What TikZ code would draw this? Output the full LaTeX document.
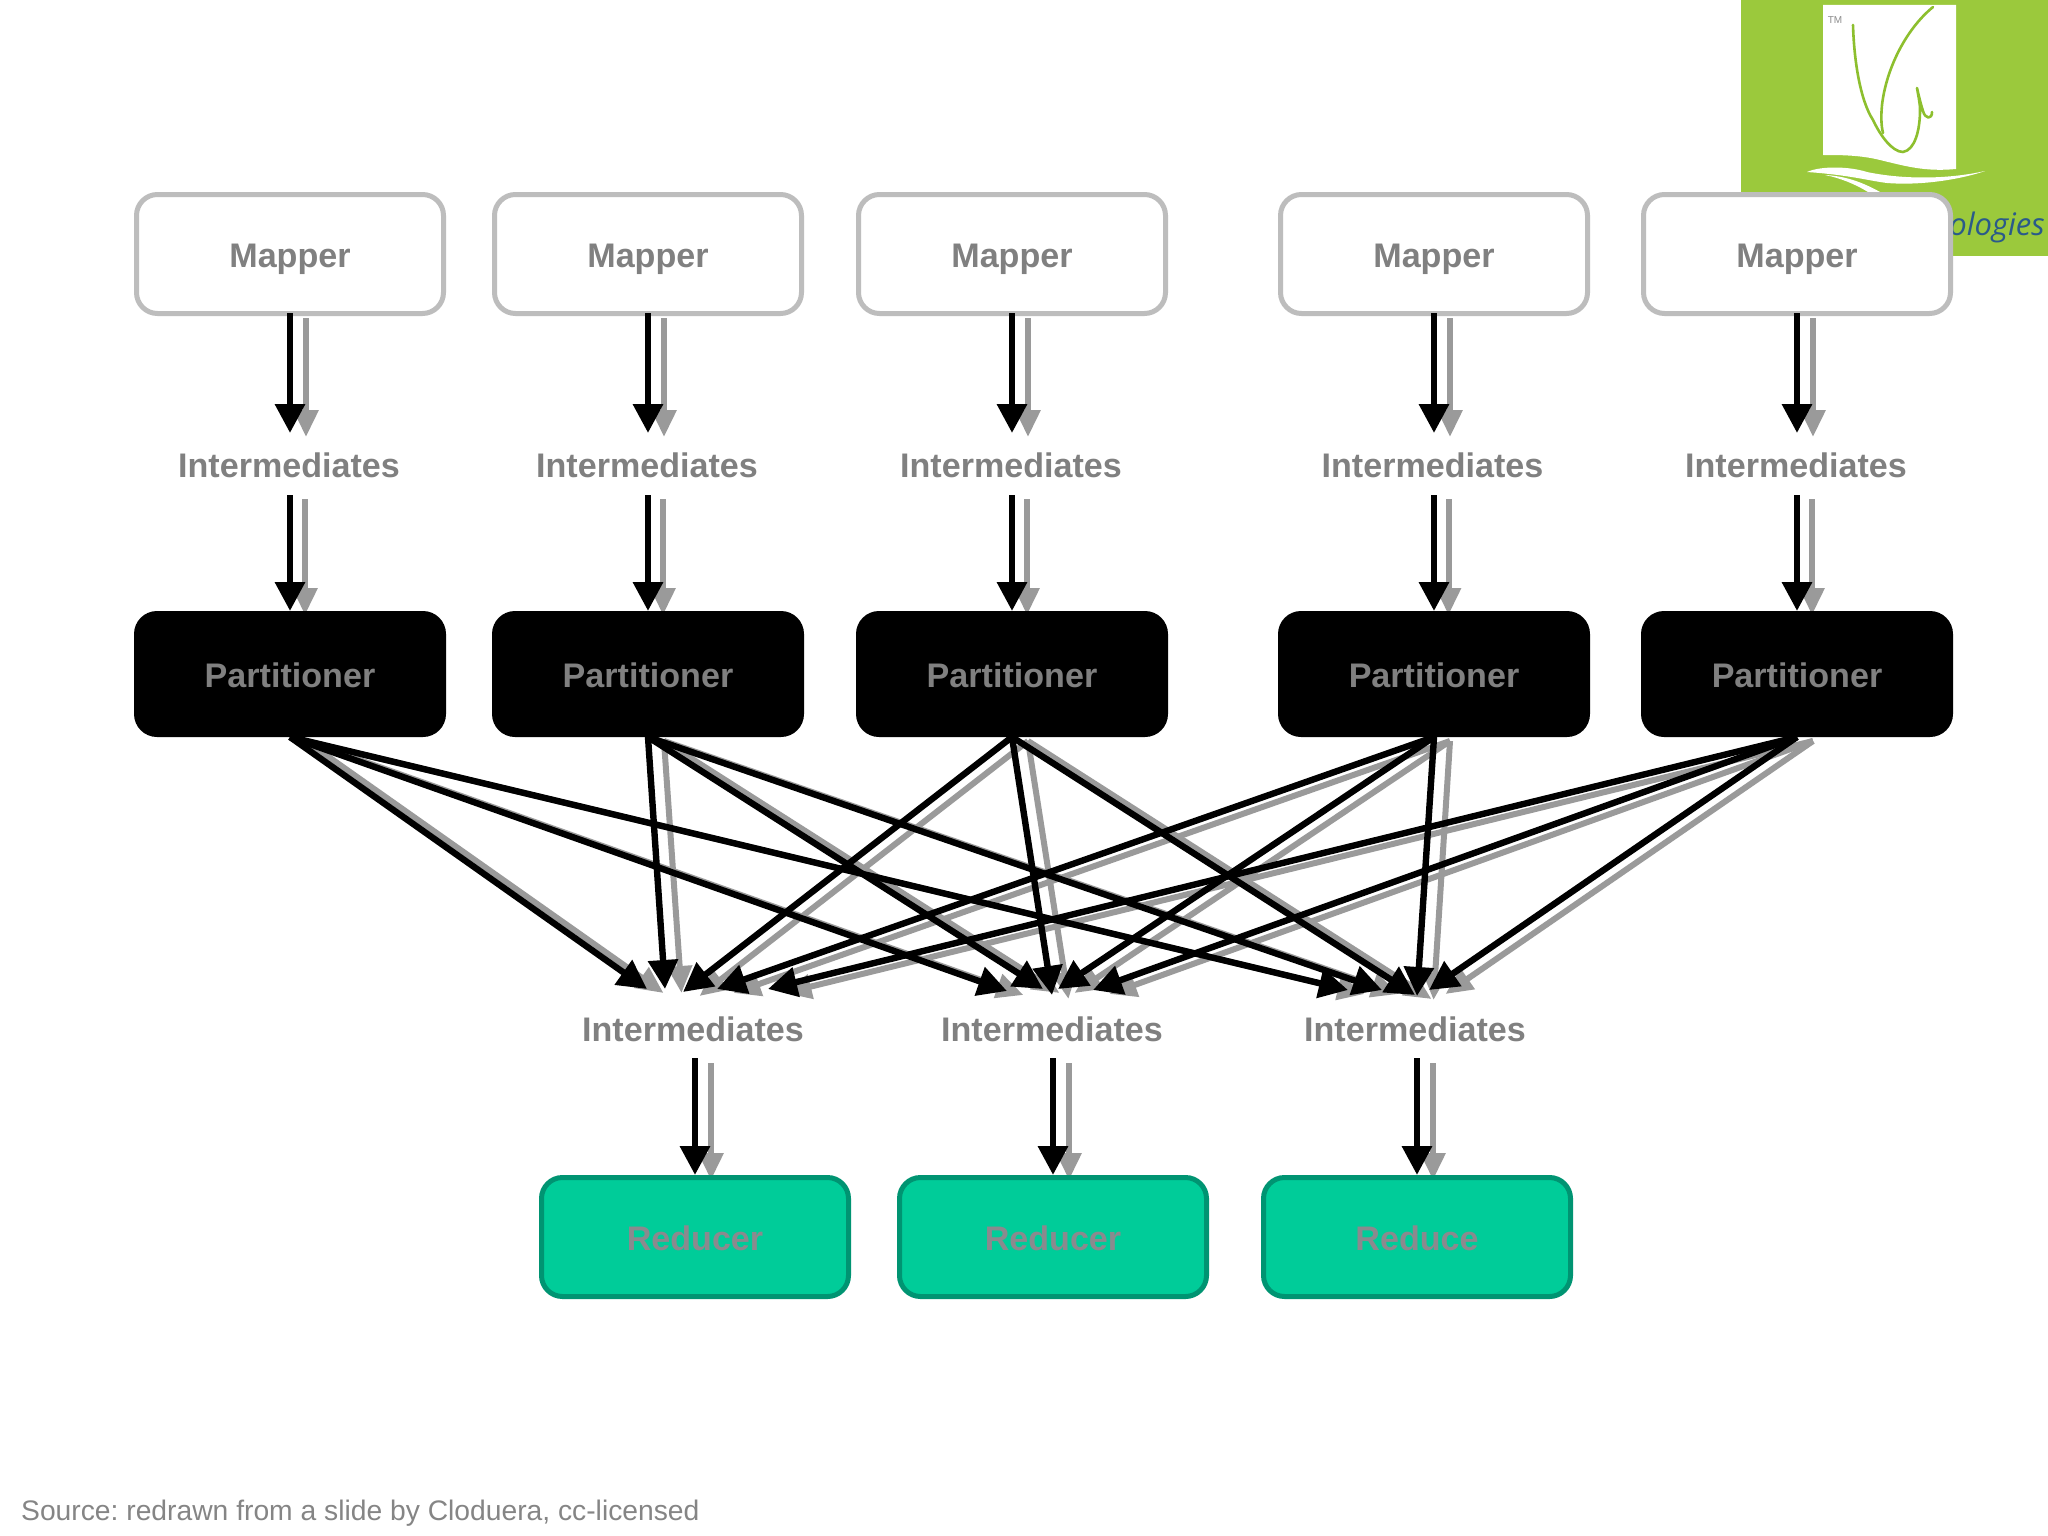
\documentclass[tikz,border=0pt]{standalone}
\usepackage{fontspec}
\setmainfont{Liberation Sans}
\newfontfamily\logofont{Open Sans}
\usetikzlibrary{arrows.meta}
\pgfdeclarelayer{bg}
\pgfdeclarelayer{fg}
\pgfsetlayers{bg,main,fg}
\frenchspacing
\definecolor{txtgray}{HTML}{808080}
\definecolor{boxgray}{HTML}{BDBDBD}
\definecolor{arrgray}{HTML}{9A9A9A}
\definecolor{logogreen}{HTML}{9BC93C}
\definecolor{logoline}{HTML}{8DBF2E}
\definecolor{logotext}{HTML}{2A5A8A}
\definecolor{redfill}{HTML}{00CC99}
\definecolor{redline}{HTML}{009472}
\definecolor{redtext}{HTML}{8A8A8E}
\tikzset{
  lbl/.style={font=\fontsize{34.1}{40}\selectfont\bfseries,text=txtgray},
  box/.style={lbl,rectangle,rounded corners=21pt,inner sep=0pt,text height=34pt,text depth=8pt},
  mapper/.style={box,draw=boxgray,fill=white,line width=5pt,minimum width=307pt,minimum height=119pt},
  part/.style={box,rounded corners=23pt,fill=black,minimum width=312pt,minimum height=126pt,outer sep=0pt},
  reducer/.style={box,draw=redline,fill=redfill,line width=5pt,minimum width=307pt,minimum height=119pt,text=redtext},
  inter/.style={lbl,inner sep=0pt,outer sep=0pt,minimum height=66pt,text height=30pt,text depth=8pt},
  blk/.style={draw=black,line width=6.4pt,-{Triangle[width=29pt,length=29pt]}},
  gry/.style={draw=arrgray,line width=6pt,-{Triangle[width=24pt,length=27pt]}},
  blkx/.style={draw=black,line width=6.4pt,-{Triangle[width=29pt,length=29pt]}},
  gryx/.style={draw=arrgray,line width=6pt,-{Triangle[width=24pt,length=27pt]}},
  logocurve/.style={draw=logoline,line width=2.6pt,line cap=round,line join=round}
}
\begin{document}
\begin{tikzpicture}[x=1pt,y=-1pt]
\useasboundingbox (0,0) rectangle (2048,1536);
% logo
\begin{pgfonlayer}{bg}
\fill[white] (0,0) rectangle (2048,1536);
\fill[logogreen] (1741,0) rectangle (2048,256);
\fill[white] (1823,5) -- (1956,5) -- (1956,169)
  .. controls (1925,172) and (1905,166) .. (1880,160)
  .. controls (1860,155) and (1840,155) .. (1823,155) -- cycle;
\fill[white] (1807,172) .. controls (1820,166) and (1848,166) .. (1867,172)
  .. controls (1900,179) and (1945,180) .. (1985,171)
  .. controls (1965,178) and (1925,186) .. (1887,183)
  .. controls (1870,181) and (1850,175) .. (1807,172) -- cycle;
\fill[white] (1825,175) .. controls (1845,176) and (1862,182) .. (1880,192)
  -- (1868,192) .. controls (1855,184) and (1840,178) .. (1825,175) -- cycle;
\draw[logocurve] (1853,25) .. controls (1854,60) and (1860,100) .. (1873,120)
  .. controls (1880,135) and (1892,152) .. (1903,152)
  .. controls (1915,150) and (1920,130) .. (1920,110)
  .. controls (1920,102) and (1918,95) .. (1917,88)
  .. controls (1919,97) and (1921,105) .. (1923,111)
  .. controls (1925,119) and (1932,120) .. (1932,112);
\draw[logocurve] (1933,7) .. controls (1905,30) and (1886,70) .. (1882,105)
  .. controls (1881,115) and (1881,125) .. (1883,133);
\node[inner sep=0pt,anchor=center,text=black!45,font=\fontsize{10}{12}\selectfont] (tm) at (1835,20) {TM};
\node[inner sep=0pt,anchor=base east,text=logotext,font=\logofont\itshape\fontsize{31}{34}\selectfont] (lg) at (2045,235) {ologies};
\end{pgfonlayer}
% nodes
\foreach \n/\cx/\ix in {1/290/289,2/648/647,3/1012/1011,4/1434/1432.5,5/1797/1796}{
  \node[mapper] (m\n) at (\cx,254) {Mapper};
  \node[inter]  (i\n) at (\ix,466) {Intermediates};
  \node[part]   (p\n) at (\cx,674) {Partitioner};
}
\foreach \n/\cx/\ix/\t in {1/695/693/Reducer,2/1053/1052/Reducer,3/1417/1415/Reduce}{
  \node[inter]   (j\n) at (\ix,1030) {Intermediates};
  \node[reducer] (r\n) at (\cx,1237) {\t};
}
\node[anchor=base west,inner sep=0pt,text=black!48,font=\fontsize{28.25}{32}\selectfont] (src) at (21,1520) {Source: redrawn from a slide by Cloduera, cc-licensed};
% targets of the crossing arrows
\coordinate (a1) at (647,989);  \coordinate (a2) at (665,989);  \coordinate (a3) at (683,992);  \coordinate (a4) at (717,989);  \coordinate (a5) at (768,989);
\coordinate (b1) at (1007,991); \coordinate (b2) at (1043,989); \coordinate (b3) at (1052,995); \coordinate (b4) at (1058,989); \coordinate (b5) at (1093,990);
\coordinate (c1) at (1348,990); \coordinate (c2) at (1382,990); \coordinate (c3) at (1415,995); \coordinate (c4) at (1417,996); \coordinate (c5) at (1429,990);
% gray arrows
\begin{pgfonlayer}{bg}
\foreach \n in {1,...,5}{
  \draw[gry] ([shift={(16,2)}]m\n.south) -- ([shift={(16,4)}]m\n.south |- i\n.north);
  \draw[gry] ([shift={(16,0)}]i\n.south) -- ([shift={(16,4)}]i\n.south |- p\n.north);
  \foreach \t in {a,b,c}{
    \draw[gryx] ([shift={(16,4)}]p\n.south) -- ([shift={(16.5,4)}]\t\n);
  }
}
\draw[gry] ([shift={(18,0)}]j1.south) -- ([shift={(16,5)}]r1.north);
\draw[gry] ([shift={(17,0)}]j2.south) -- ([shift={(16,5)}]r2.north);
\draw[gry] ([shift={(18,0)}]j3.south) -- ([shift={(16,5)}]r3.north);
\end{pgfonlayer}
% black arrows
\begin{pgfonlayer}{fg}
\foreach \n in {1,...,5}{
  \draw[blk] ([yshift=3pt]m\n.south) -- (m\n.south |- i\n.north);
  \draw[blk] ([yshift=4pt]m\n.south |- i\n.south) -- (m\n.south |- p\n.north);
  \foreach \t in {a,b,c}{
    \draw[blkx] (p\n.south) -- (\t\n);
  }
}
\foreach \n in {1,2,3}{
  \draw[blk] ([yshift=5pt]r\n.north |- j\n.south) -- (r\n.north);
}
\end{pgfonlayer}
\end{tikzpicture}
\end{document}
